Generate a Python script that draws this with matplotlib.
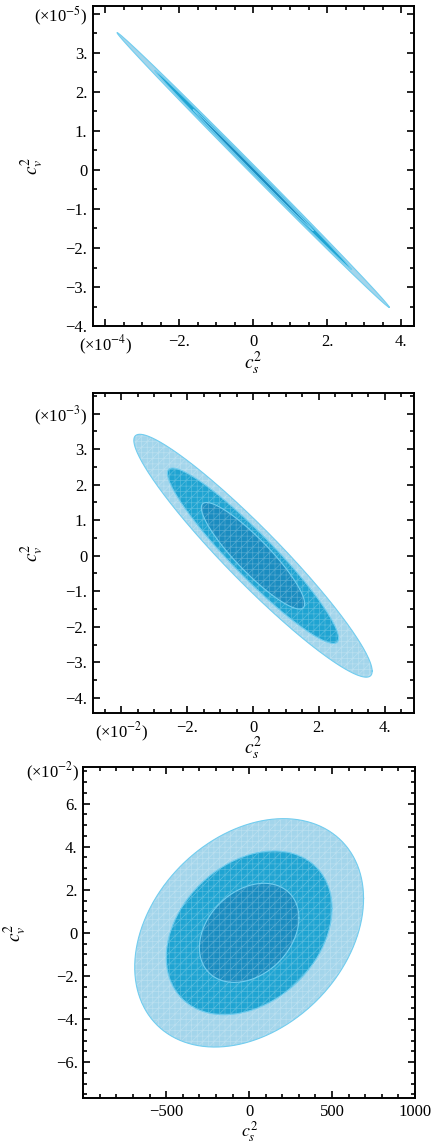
import numpy as np
import matplotlib
matplotlib.use("Agg")
import matplotlib.pyplot as plt
from matplotlib.ticker import FixedLocator, MultipleLocator, FixedFormatter

plt.rcParams['font.family'] = ['Liberation Serif', 'DejaVu Serif']
plt.rcParams['mathtext.fontset'] = 'stix'
plt.rcParams['hatch.linewidth'] = 0.5

# contour levels (1, 2, 3 sigma), in plotted units of each panel
# panel 1: x in 1e-4, y in 1e-5
p1_ax = [1.62, 2.66, 3.68]
p1_by = [1.55, 2.55, 3.52]
p1_rho = [-0.9992, -0.9992, -0.9992]
# panel 2: x in 1e-2, y in 1e-3
p2_ax = [1.57, 2.60, 3.62]
p2_by = [1.50, 2.47, 3.42]
p2_rho = [-0.90, -0.94, -0.95]
# panel 3: x plain, y in 1e-2
p3_ax = [300, 500, 690]
p3_by = [2.30, 3.80, 5.30]
p3_rho = [0.30, 0.30, 0.30]

fill_colors = ['#1a8cc0', '#1fa4d2', '#a3d5eb']   # inner, middle, outer
edge_color = '#72cdef'

p1_xticks = [-4, -2, 0, 2, 4]
p1_xlabels = ['(×10$^{-4}$)', '−2.', '0', '2.', '4.']
p1_yticks = [-4, -3, -2, -1, 0, 1, 2, 3, 4]
p1_ylabels = ['−4.', '−3.', '−2.', '−1.', '0', '1.', '2.', '3.', '(×10$^{-5}$)']

p2_xticks = [-4, -2, 0, 2, 4]
p2_xlabels = ['(×10$^{-2}$)', '−2.', '0', '2.', '4.']
p2_yticks = [-4, -3, -2, -1, 0, 1, 2, 3, 4]
p2_ylabels = ['−4.', '−3.', '−2.', '−1.', '0', '1.', '2.', '3.', '(×10$^{-3}$)']

p3_xticks = [-1000, -500, 0, 500, 1000]
p3_xlabels = ['', '−500', '0', '500', '1000']
p3_yticks = [-6, -4, -2, 0, 2, 4, 6]
p3_ylabels = ['−6.', '−4.', '−2.', '0', '2.', '4.', '6.']


def ellipse(a, b, rho, n=400):
    t = np.linspace(0, 2 * np.pi, n)
    x = a * np.cos(t)
    y = b * (rho * np.cos(t) + np.sqrt(1 - rho ** 2) * np.sin(t))
    return x, y


def draw_contours(ax, avals, bvals, rhos, hatch=None):
    # outer first so the inner ones sit on top
    for i in [2, 1, 0]:
        x, y = ellipse(avals[i], bvals[i], rhos[i])
        if hatch:
            ax.fill(x, y, facecolor=fill_colors[i], edgecolor=(1, 1, 1, 0.25),
                    hatch=hatch, linewidth=0)
        else:
            ax.fill(x, y, facecolor=fill_colors[i], linewidth=0)
        ax.plot(x, y, color=edge_color, lw=0.8)


def style(ax, xticks, xlabels, yticks, ylabels, xminor, yminor, xl_y, yl_x,
          xpad=5.5, lsize=14):
    ax.xaxis.set_major_locator(FixedLocator(xticks))
    ax.xaxis.set_major_formatter(FixedFormatter(xlabels))
    ax.yaxis.set_major_locator(FixedLocator(yticks))
    ax.yaxis.set_major_formatter(FixedFormatter(ylabels))
    ax.xaxis.set_minor_locator(MultipleLocator(xminor))
    ax.yaxis.set_minor_locator(MultipleLocator(yminor))
    ax.tick_params(which='both', direction='in', top=True, right=True,
                   labelsize=12, width=1.2)
    ax.tick_params(which='major', length=5, pad=4)
    ax.tick_params(axis='x', which='major', pad=xpad)
    ax.tick_params(which='minor', length=3)
    for s in ax.spines.values():
        s.set_linewidth(1.4)
    ax.set_xlabel('$c_s^2$', fontsize=lsize, va='center')
    ax.set_ylabel('$c_v^2$', fontsize=14, va='center')
    ax.xaxis.set_label_coords(0.5, xl_y)
    ax.yaxis.set_label_coords(yl_x, 0.5)


fig = plt.figure(figsize=(4.32, 11.46), dpi=100)

ax1 = fig.add_axes([0.2153, 0.7155, 0.743, 0.2792])
draw_contours(ax1, p1_ax, p1_by, p1_rho)
ax1.set_xlim(-4.33, 4.35)
ax1.set_ylim(-4.0, 4.2)
style(ax1, p1_xticks, p1_xlabels, p1_yticks, p1_ylabels, 0.5, 0.5, -0.115, -0.19)

ax2 = fig.add_axes([0.2153, 0.3781, 0.743, 0.2792])
draw_contours(ax2, p2_ax, p2_by, p2_rho, hatch='+++///')
ax2.set_xlim(-4.86, 4.89)
ax2.set_ylim(-4.42, 4.59)
style(ax2, p2_xticks, p2_xlabels, p2_yticks, p2_ylabels, 0.5, 0.5, -0.11, -0.19)

ax3 = fig.add_axes([0.1928, 0.0416, 0.7678, 0.2888])
draw_contours(ax3, p3_ax, p3_by, p3_rho, hatch='+++///')
ax3.set_xlim(-1000, 1000)
ax3.set_ylim(-7.68, 7.68)
style(ax3, p3_xticks, p3_xlabels, p3_yticks, p3_ylabels, 100, 0.5, -0.1, -0.205,
      xpad=4, lsize=13)
ax3.text(-0.012, 0.985, '(×10$^{-2}$)', transform=ax3.transAxes,
         ha='right', va='center', fontsize=12)

fig.savefig('out.png', dpi=100)
